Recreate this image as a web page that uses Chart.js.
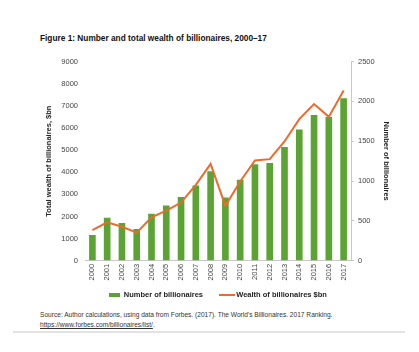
<!DOCTYPE html>
<html><head><meta charset="utf-8">
<script src="https://cdn.jsdelivr.net/npm/chart.js@4.4.0/dist/chart.umd.min.js"></script>
<style>
html,body{margin:0;padding:0;background:#fff;width:419px;height:352px;overflow:hidden;font-family:"Liberation Sans",Arial,sans-serif;}
#title{position:absolute;left:40px;top:33px;font-size:8.3px;font-weight:bold;color:#111;white-space:nowrap;}
#wrap{position:absolute;left:0;top:50px;width:419px;height:259px;}
#src{position:absolute;left:40px;top:310px;font-size:6.6px;color:#333;line-height:10px;white-space:nowrap;}
#src a{color:#333;text-decoration:underline;}
#rule{position:absolute;left:13px;top:331px;width:392px;height:2px;background:#e3e3e3;}
</style></head><body>
<div id="title">Figure 1: Number and total wealth of billionaires, 2000–17</div>
<div id="wrap"><canvas id="c"></canvas></div>
<div id="src">Source: Author calculations, using data from Forbes. (2017). The World's Billionaires. 2017 Ranking.<br><a>https://www.forbes.com/billionaires/list/</a>.</div>
<div id="rule"></div>
<script>
const years = ['2000','2001','2002','2003','2004','2005','2006','2007','2008','2009','2010','2011','2012','2013','2014','2015','2016','2017'];
const numberOfBillionaires = [325,540,475,400,590,695,800,946,1122,795,1018,1210,1227,1428,1646,1830,1805,2039];
const wealthBn = [1390,1740,1540,1270,1965,2265,2630,3430,4380,2480,3580,4530,4590,5390,6400,7080,6500,7690];
const wealthTicks = [0,1000,2000,3000,4000,5000,6000,7000,8000,9000];
const numberTicks = [0,500,1000,1500,2000,2500];

const GREEN = '#5ba332';
const ORANGE = '#ec6a2c';
const FONT = '"Liberation Sans", Arial, sans-serif';

function mk(w,h,color){
  const c=document.createElement('canvas');c.width=w;c.height=h;
  const x=c.getContext('2d');x.fillStyle=color;x.fillRect(0,0,w,h);return c;
}
const legendIcons=[mk(11,4,GREEN),mk(16,2,ORANGE)];
const legendText=['Number of billionaires     ','Wealth of billionaires $bn'];

new Chart(document.getElementById('c'),{
  data:{
    labels:years,
    datasets:[
      {type:'bar',label:'Number of billionaires',data:numberOfBillionaires,yAxisID:'yN',
       backgroundColor:GREEN,borderWidth:0,categoryPercentage:1,barPercentage:0.45,order:1},
      {type:'line',label:'Wealth of billionaires $bn',data:wealthBn,yAxisID:'yW',
       borderColor:ORANGE,backgroundColor:ORANGE,borderWidth:2,pointRadius:0,tension:0,order:0}
    ]
  },
  options:{
    responsive:true,maintainAspectRatio:false,animation:false,
    layout:{padding:{top:6,left:0,right:0,bottom:0}},
    plugins:{
      tooltip:{enabled:false},
      legend:{position:'bottom',fullSize:false,
        labels:{usePointStyle:true,pointStyleWidth:11,boxHeight:7,padding:8,color:'#222',
          font:{family:FONT,size:7.5,weight:'bold'},
          generateLabels:(chart)=>{
            const items=Chart.defaults.plugins.legend.labels.generateLabels(chart);
            items.sort((a,b)=>a.datasetIndex-b.datasetIndex);
            items.forEach(it=>{it.pointStyle=legendIcons[it.datasetIndex];it.text=legendText[it.datasetIndex];});
            return items;
          }}
      }
    },
    scales:{
      x:{offset:true,grid:{display:false,drawTicks:false},border:{display:true,color:'#c8c8c8',width:1},
         ticks:{minRotation:90,maxRotation:90,autoSkip:false,color:'#444',padding:3,font:{family:FONT,size:7.5}}},
      yW:{position:'left',min:0,max:9000,
         afterBuildTicks:(s)=>{s.ticks=wealthTicks.map(v=>({value:v}));},
         afterFit:(s)=>{s.width=85;},
         grid:{display:false,drawTicks:false},border:{display:false},
         ticks:{padding:7,color:'#444',font:{family:FONT,size:7.5},callback:(v)=>String(v)},
         title:{display:true,text:'Total wealth of billionaires, $bn',color:'#222',padding:{top:44,bottom:0},
           font:{family:FONT,size:7.5,weight:'bold'}}},
      yN:{position:'right',min:0,max:2500,
         afterBuildTicks:(s)=>{s.ticks=numberTicks.map(v=>({value:v}));},
         afterFit:(s)=>{s.width=68;},
         grid:{drawOnChartArea:false,drawTicks:true,tickLength:3,color:'#c8c8c8'},
         border:{display:true,color:'#c8c8c8',width:1},
         ticks:{padding:4,color:'#444',font:{family:FONT,size:7.5},callback:(v)=>String(v)},
         title:{display:true,text:'Number of billionaires',color:'#222',padding:{top:28,bottom:0},
           font:{family:FONT,size:7.5,weight:'bold'}}}
    }
  }
});
</script>
</body></html>
